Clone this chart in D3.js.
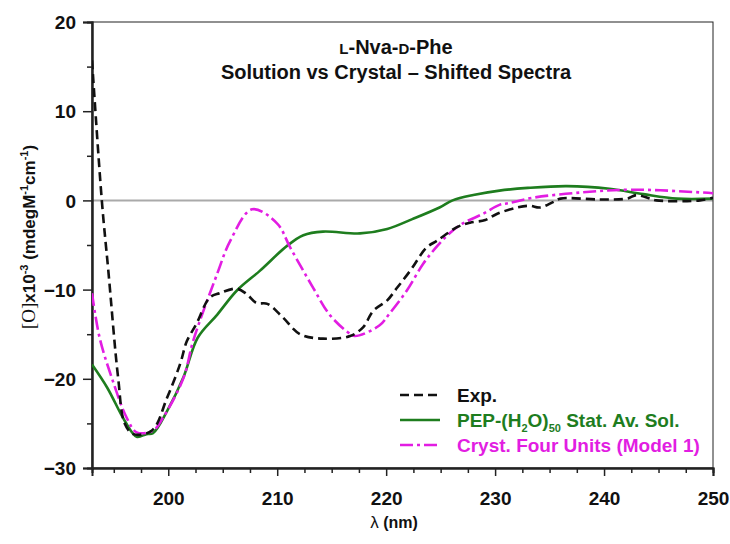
<!DOCTYPE html>
<html><head><meta charset="utf-8">
<script src="https://cdn.jsdelivr.net/npm/d3@7/dist/d3.min.js"></script>
<style>body{margin:0;background:#fff}svg{display:block}text{font-family:Arial,"Liberation Sans",sans-serif}</style>
</head><body><svg id="c" width="730" height="544"></svg>
<script>
const expX = [193.0,193.9,194.5,195.4,196.0,196.8,198.5,199.9,201.1,201.7,202.6,203.8,204.7,206.3,207.2,208.1,209.1,210.5,212.1,214.2,216.7,217.9,218.8,220.1,221.0,222.2,223.7,224.7,226.5,227.7,229.1,230.2,232.0,233.2,234.1,235.3,236.0,239.6,242.1,243.0,244.2,244.8,248.8,250.0];
const expY = [15.7,0.0,-7.9,-19.9,-25.0,-26.2,-25.8,-22.1,-18.3,-15.8,-13.8,-10.9,-10.4,-9.9,-10.5,-11.5,-11.6,-13.1,-15.0,-15.5,-15.2,-14.2,-12.4,-11.2,-9.8,-7.9,-5.3,-4.5,-3.0,-2.5,-2.2,-1.5,-0.8,-0.6,-0.8,-0.2,0.2,0.1,0.2,0.6,0.2,0.0,0.0,0.3];
const pepX = [193.0,194.4,196.0,197.1,198.0,198.6,199.9,201.4,202.7,204.5,206.3,208.4,210.9,212.4,214.2,217.6,220.1,222.4,224.9,226.1,228.0,230.4,233.0,236.6,240.5,243.6,246.7,250.0];
const pepY = [-18.4,-21.0,-24.7,-26.5,-26.2,-26.1,-23.6,-19.8,-15.4,-12.8,-10.1,-7.9,-5.1,-3.9,-3.5,-3.7,-3.2,-2.1,-0.8,0.0,0.6,1.1,1.4,1.6,1.3,0.7,0.2,0.2];
const crX = [193.0,193.7,194.9,196.2,197.1,198.6,199.5,201.4,202.3,204.5,205.7,207.7,210.0,211.2,213.3,214.8,216.4,217.1,219.4,220.3,221.9,223.4,224.7,225.8,227.0,228.9,230.4,231.3,233.5,238.0,242.6,248.8,250.0];
const crY = [-10.4,-15.4,-20.2,-24.4,-26.0,-25.8,-24.4,-19.9,-15.7,-8.2,-4.5,-1.0,-2.6,-5.3,-9.8,-12.8,-14.7,-15.2,-14.0,-12.7,-10.1,-7.1,-5.1,-3.7,-2.6,-1.5,-0.5,-0.3,0.3,0.9,1.2,0.9,0.8];
const xMajor = [200,210,220,230,240,250];
const xMinor = [195,197.5,202.5,205,207.5,212.5,215,217.5,222.5,225,227.5,232.5,235,237.5,242.5,245,247.5];
const yMajor = [20,10,0,-10,-20,-30];
const yMinor = [15,5,-5,-15,-25];
const legendLabels = ["Exp.","PEP-(H2O)50 Stat. Av. Sol.","Cryst. Four Units (Model 1)"];

const svg = d3.select("#c");
const L=92,R=713,T=22,B=468;
const x = d3.scaleLinear().domain([193,250]).range([L,R]);
const y = d3.scaleLinear().domain([-30,20]).range([B,T]);
const green="#1e7d1e", mag="#e21de2";

// zero line
svg.append("line").attr("x1",L).attr("x2",R).attr("y1",y(0)).attr("y2",y(0)).attr("stroke","#aaaaaa").attr("stroke-width",2);

// frame
svg.append("rect").attr("x",L).attr("y",T).attr("width",R-L).attr("height",B-T).attr("fill","none").attr("stroke","#222").attr("stroke-width",1);

// axes
const xa = svg.append("g").attr("transform",`translate(0,${B})`);
xa.call(d3.axisBottom(x).tickValues(xMajor).tickSize(8).tickFormat(d3.format("d")));
const xm = svg.append("g").attr("transform",`translate(0,${B})`);
xm.call(d3.axisBottom(x).tickValues(xMinor).tickSize(5).tickFormat(""));
const ya = svg.append("g").attr("transform",`translate(${L},0)`);
ya.call(d3.axisLeft(y).tickValues(yMajor).tickSize(9).tickFormat(d3.format("d")));
const ym = svg.append("g").attr("transform",`translate(${L},0)`);
ym.call(d3.axisLeft(y).tickValues(yMinor).tickSize(5).tickFormat(""));
[xa,xm,ya,ym].forEach(g=>{g.select(".domain").attr("stroke","#222").attr("stroke-width",2);g.selectAll(".tick line").attr("stroke","#222").attr("stroke-width",1.5);g.selectAll("text").attr("fill","#111").style("font-size","19px").style("font-weight","bold").style("font-family","Arial");});
xa.selectAll("text").attr("dy","0").attr("y",37);
ya.selectAll("text").attr("x",-16).attr("dy","0.35em");

// lines
const line = (xs,ys)=>d3.line().x((d,i)=>x(xs[i])).y((d,i)=>y(ys[i])).curve(d3.curveCatmullRom.alpha(0.5))(xs);
svg.append("clipPath").attr("id","cp").append("rect").attr("x",L).attr("y",T).attr("width",R-L).attr("height",B-T);
const gl = svg.append("g").attr("clip-path","url(#cp)");
gl.append("path").attr("d",line(pepX,pepY)).attr("fill","none").attr("stroke",green).attr("stroke-width",2.6);
gl.append("path").attr("d",line(crX,crY)).attr("fill","none").attr("stroke",mag).attr("stroke-width",2.6).attr("stroke-dasharray","13,4,3,4");
gl.append("path").attr("d",line(expX,expY)).attr("fill","none").attr("stroke","#111").attr("stroke-width",2.6).attr("stroke-dasharray","9,5");

// title
const t1 = svg.append("text").attr("x",396).attr("y",54).attr("text-anchor","middle").style("font-size","20px").style("font-weight","bold").attr("fill","#111");
t1.append("tspan").style("font-size","15px").text("L");
t1.append("tspan").text("-Nva-");
t1.append("tspan").style("font-size","15px").text("D");
t1.append("tspan").text("-Phe");
svg.append("text").attr("x",396).attr("y",79).attr("text-anchor","middle").style("font-size","20px").style("font-weight","bold").attr("fill","#111").text("Solution vs Crystal \u2013 Shifted Spectra");

// y label
const yl = svg.append("text").attr("transform","translate(35,237) rotate(-90)").attr("text-anchor","middle").style("font-size","17px").style("font-weight","bold").attr("fill","#111");
yl.append("tspan").style("font-family","'Liberation Serif','Times New Roman',serif").style("font-weight","normal").style("font-size","19px").text("[O]");
yl.append("tspan").text("x10");
yl.append("tspan").attr("dy",-7).style("font-size","11px").text("-3");
yl.append("tspan").attr("dy",7).text(" (mdegM");
yl.append("tspan").attr("dy",-7).style("font-size","11px").text("-1");
yl.append("tspan").attr("dy",7).text("cm");
yl.append("tspan").attr("dy",-7).style("font-size","11px").text("-1");
yl.append("tspan").attr("dy",7).text(")");

// x label
const xl = svg.append("text").attr("x",394).attr("y",528).attr("text-anchor","middle").style("font-size","16px").style("font-weight","bold").attr("fill","#111");
xl.append("tspan").style("font-weight","normal").style("font-size","17px").text("\u03bb");
xl.append("tspan").text(" (nm)");

// legend
const lg = svg.append("g");
const ly=[395,420,445], lcol=["#111",green,mag], ldash=["9,5",null,"13,4,3,4"];
ly.forEach((yy,i)=>{
  const l = lg.append("line").attr("x1",400).attr("x2",440).attr("y1",yy).attr("y2",yy).attr("stroke",lcol[i]).attr("stroke-width",2.6);
  if(ldash[i]) l.attr("stroke-dasharray",ldash[i]);
  const t = lg.append("text").attr("x",457).attr("y",yy+7).style("font-size","19px").style("font-weight","bold").attr("fill",lcol[i]);
  if(i===1){
    t.append("tspan").text("PEP-(H");
    t.append("tspan").attr("dy",5).style("font-size","11px").text("2");
    t.append("tspan").attr("dy",-5).text("O)");
    t.append("tspan").attr("dy",5).style("font-size","11px").text("50");
    t.append("tspan").attr("dy",-5).text(" Stat. Av. Sol.");
  } else t.text(legendLabels[i]);
});
</script></body></html>
